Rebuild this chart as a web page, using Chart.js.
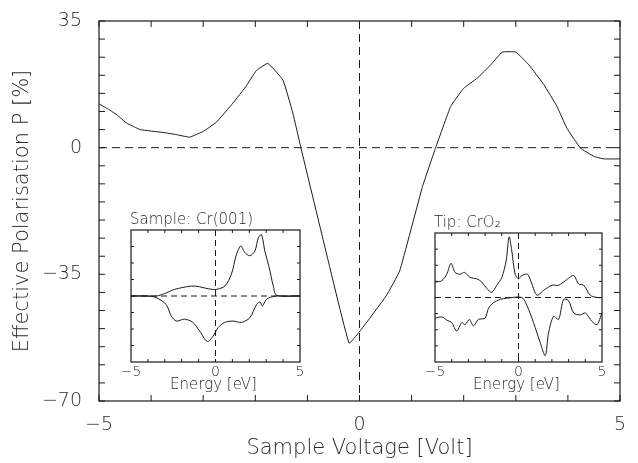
<!DOCTYPE html>
<html>
<head>
<meta charset="utf-8">
<script src="https://cdn.jsdelivr.net/npm/chart.js@4.4.0/dist/chart.umd.min.js"></script>
<style>
  html, body { margin: 0; padding: 0; background: #fff; }
  #wrap { position: relative; width: 638px; height: 463px; }
  canvas { position: absolute; }
</style>
</head>
<body>
<div id="wrap">
  <canvas id="mainChart" width="638" height="463" style="left:0;top:0"></canvas>
  <canvas id="sampleChart" width="230" height="200" style="left:100px;top:200px"></canvas>
  <canvas id="tipChart" width="230" height="200" style="left:405px;top:200px"></canvas>
</div>
<script>
// main curve: sample voltage [V] vs effective polarisation [%]
var voltage = [-5.0, -4.85, -4.66, -4.47, -4.21, -3.77, -3.51, -3.26, -3.0, -2.75, -2.43, -2.17, -1.98, -1.76, -1.47, -1.28, -1.12, -0.70, -0.20, 0.03, 0.51, 0.77, 1.21, 1.45, 1.75, 2.0, 2.26, 2.52, 2.74, 3.0, 3.25, 3.54, 3.79, 3.98, 4.24, 4.5, 4.69, 5.0];
var polarisation = [12.1, 10.9, 9.1, 6.8, 5.0, 4.2, 3.6, 2.9, 4.5, 7.0, 12.3, 17.1, 21.3, 23.3, 18.7, 9.6, -0.3, -25.3, -54.0, -50.3, -41.0, -34.1, -10.7, -0.5, 11.4, 16.4, 19.2, 22.9, 26.4, 26.4, 22.9, 17.4, 11.4, 5.4, -0.1, -2.4, -3.1, -3.1];

var xTickLabels = [-5, 0, 5];
var yTickLabels = [35, 0, -35, -70];

// inset: sample Cr(001), majority (up) and minority (down) DOS
var crUpEnergy = [-5, -3.5, -3.02, -2.42, -1.43, -0.94, -0.44, 0.05, 0.55, 0.94, 1.24, 1.50, 1.73, 2.03, 2.33, 2.53, 2.72, 2.92, 3.16, 3.42, 3.62, 5];
var crUpDos = [0, 0, 0.036, 0.10, 0.15, 0.14, 0.11, 0.10, 0.15, 0.33, 0.63, 0.76, 0.66, 0.61, 0.68, 0.88, 0.93, 0.68, 0.45, 0.15, 0.01, 0];
var crDownEnergy = [-5, -3.9, -3.42, -2.92, -2.62, -2.32, -1.83, -1.34, -0.94, -0.48, -0.15, 0.15, 0.55, 1.04, 1.54, 2.03, 2.43, 2.63, 2.77, 3.02, 3.32, 3.6, 5];
var crDownDos = [0, 0, -0.035, -0.13, -0.30, -0.38, -0.35, -0.40, -0.53, -0.69, -0.61, -0.48, -0.40, -0.38, -0.40, -0.33, -0.13, -0.09, -0.15, -0.05, -0.015, 0, 0];

// inset: tip CrO2
var tipUpEnergy = [-5, -4.6, -4.3, -4.04, -3.8, -3.5, -3.24, -2.9, -2.5, -2.2, -1.9, -1.6, -1.3, -1.0, -0.74, -0.56, -0.40, -0.2, 0, 0.2, 0.54, 0.8, 1.1, 1.5, 2.0, 2.4, 2.8, 3.3, 3.6, 3.9, 4.3, 4.7, 5.0];
var tipUpDos = [0.24, 0.26, 0.36, 0.53, 0.39, 0.36, 0.39, 0.31, 0.29, 0.24, 0.14, 0.08, 0.19, 0.31, 0.57, 0.94, 0.72, 0.36, 0.29, 0.34, 0.36, 0.21, 0.035, 0.11, 0.19, 0.19, 0.26, 0.34, 0.21, 0.19, 0.035, 0, 0];
var tipDownEnergy = [-5, -4.6, -4.3, -4.0, -3.7, -3.4, -3.2, -2.94, -2.7, -2.4, -2.0, -1.8, -1.5, -1.1, -0.7, 0.2, 0.5, 0.9, 1.3, 1.6, 1.8, 2.1, 2.4, 2.7, 3.0, 3.3, 3.7, 4.0, 4.4, 4.7, 5.0];
var tipDownDos = [-0.32, -0.30, -0.35, -0.39, -0.52, -0.39, -0.42, -0.34, -0.44, -0.34, -0.32, -0.17, -0.08, -0.03, -0.01, 0, -0.12, -0.39, -0.70, -0.90, -0.55, -0.29, -0.34, -0.03, -0.05, -0.24, -0.27, -0.24, -0.37, -0.42, -0.24];

var FONT = '"DejaVu Sans", sans-serif';
var INK = '#1a1a1a';
var TEXT = '#2a2a2a';

function points(xs, ys) {
    var out = [];
    for (var i = 0; i < xs.length; i++) out.push({ x: xs[i], y: ys[i] });
    return out;
}

function label(v) {
    return v < 0 ? '\u2212' + Math.abs(v) : String(v);
}

function line(ctx, x1, y1, x2, y2) {
    ctx.beginPath();
    ctx.moveTo(x1, y1);
    ctx.lineTo(x2, y2);
    ctx.stroke();
}

// frame, inward ticks and dashed zero lines for the main plot
var mainDecor = {
    id: 'mainDecor',
    beforeDatasetsDraw: function (chart) {
        var a = chart.chartArea, ctx = chart.ctx;
        var x0 = chart.scales.x.getPixelForValue(0);
        var y0 = chart.scales.y.getPixelForValue(0);
        ctx.save();
        ctx.strokeStyle = INK;
        ctx.lineWidth = 1;
        ctx.setLineDash([8, 5]);
        line(ctx, a.left, y0, a.right, y0);
        line(ctx, x0, a.top, x0, a.bottom);
        ctx.restore();
    },
    afterDraw: function (chart) {
        var a = chart.chartArea, ctx = chart.ctx;
        var xs = chart.scales.x, ys = chart.scales.y;
        ctx.save();
        ctx.strokeStyle = INK;
        ctx.lineWidth = 1.2;
        ctx.strokeRect(a.left, a.top, a.right - a.left, a.bottom - a.top);
        ctx.lineWidth = 1;
        xs.ticks.forEach(function (t) {
            var px = xs.getPixelForValue(t.value);
            line(ctx, px, a.top, px, a.top + 6);
            line(ctx, px, a.bottom, px, a.bottom - 6);
        });
        ys.ticks.forEach(function (t) {
            var py = ys.getPixelForValue(t.value);
            line(ctx, a.left, py, a.left + 6, py);
            line(ctx, a.right, py, a.right - 6, py);
        });
        ctx.restore();
    }
};

new Chart(document.getElementById('mainChart'), {
    type: 'scatter',
    data: {
        datasets: [{
            data: points(voltage, polarisation),
            showLine: true,
            borderColor: INK,
            borderWidth: 1,
            pointRadius: 0,
            tension: 0.1
        }]
    },
    options: {
        responsive: false,
        animation: false,
        layout: { padding: { top: 21, right: 18, left: 0, bottom: 0 } },
        plugins: { legend: { display: false }, tooltip: { enabled: false } },
        scales: {
            x: {
                type: 'linear',
                min: -5, max: 5,
                afterFit: function (s) { s.height = 62; s.paddingLeft = 0; s.paddingRight = 0; },
                grid: { display: false, drawTicks: false },
                border: { display: false },
                ticks: {
                    stepSize: 1, autoSkip: false, maxRotation: 0, padding: 13,
                    color: TEXT, font: { family: FONT, size: 19, weight: '200' },
                    callback: function (v) { return xTickLabels.indexOf(v) >= 0 ? label(v) : ''; }
                },
                title: {
                    display: true, text: 'Sample Voltage [Volt]', color: TEXT,
                    font: { family: FONT, size: 21, weight: '200' }, padding: { top: 0, bottom: 2 }
                }
            },
            y: {
                type: 'linear',
                min: -70, max: 35,
                afterFit: function (s) { s.width = 99; s.paddingTop = 0; s.paddingBottom = 0; },
                grid: { display: false, drawTicks: false },
                border: { display: false },
                ticks: {
                    stepSize: 5, autoSkip: false, padding: 17,
                    color: TEXT, font: { family: FONT, size: 19, weight: '200' },
                    callback: function (v) { return yTickLabels.indexOf(v) >= 0 ? label(v) : ''; }
                },
                title: {
                    display: true, text: 'Effective Polarisation P [%]', color: TEXT,
                    font: { family: FONT, size: 21, weight: '200' }, padding: { top: 10, bottom: 0 }
                }
            }
        }
    },
    plugins: [mainDecor]
});

function insetDecor(title) {
    return {
        id: 'insetDecor',
        beforeDraw: function (chart) {
            var a = chart.chartArea, ctx = chart.ctx;
            ctx.save();
            ctx.fillStyle = '#fff';
            ctx.fillRect(a.left, a.top, a.right - a.left, a.bottom - a.top);
            ctx.restore();
        },
        beforeDatasetsDraw: function (chart) {
            var a = chart.chartArea, ctx = chart.ctx;
            var x0 = chart.scales.x.getPixelForValue(0);
            var y0 = chart.scales.y.getPixelForValue(0);
            ctx.save();
            ctx.strokeStyle = INK;
            ctx.lineWidth = 1;
            ctx.setLineDash([6, 4]);
            line(ctx, a.left, y0, a.right, y0);
            line(ctx, x0, a.top, x0, a.bottom);
            ctx.restore();
        },
        afterDraw: function (chart) {
            var a = chart.chartArea, ctx = chart.ctx;
            var xs = chart.scales.x, ys = chart.scales.y;
            ctx.save();
            ctx.strokeStyle = INK;
            ctx.lineWidth = 1.2;
            ctx.strokeRect(a.left, a.top, a.right - a.left, a.bottom - a.top);
            ctx.lineWidth = 1;
            for (var e = -4; e <= 4; e++) {
                var px = xs.getPixelForValue(e);
                line(ctx, px, a.top, px, a.top + 3);
                line(ctx, px, a.bottom, px, a.bottom - 3);
            }
            for (var d = -0.75; d <= 0.75; d += 0.25) {
                var py = ys.getPixelForValue(d);
                line(ctx, a.left, py, a.left + 3, py);
                line(ctx, a.right, py, a.right - 3, py);
            }
            ctx.fillStyle = TEXT;
            ctx.textAlign = 'center';
            ctx.textBaseline = 'middle';
            ctx.font = '200 14px ' + FONT;
            xTickLabels.forEach(function (v) {
                ctx.fillText(label(v), xs.getPixelForValue(v), a.bottom + 10);
            });
            ctx.font = '200 15px ' + FONT;
            ctx.fillText('Energy [eV]', (a.left + a.right) / 2 - 2, a.bottom + 23);
            ctx.textAlign = 'left';
            ctx.textBaseline = 'alphabetic';
            ctx.fillText(title, a.left - 1, a.top - 6);
            ctx.restore();
        }
    };
}

function insetChart(id, upE, upD, downE, downD, title, pad) {
    var ds = function (xs, ys) {
        return {
            data: points(xs, ys), showLine: true, borderColor: INK, borderWidth: 1,
            pointRadius: 0, tension: 0.3
        };
    };
    new Chart(document.getElementById(id), {
        type: 'scatter',
        data: { datasets: [ds(upE, upD), ds(downE, downD)] },
        options: {
            responsive: false,
            animation: false,
            layout: { padding: pad },
            plugins: { legend: { display: false }, tooltip: { enabled: false } },
            scales: {
                x: { type: 'linear', min: -5, max: 5, display: false },
                y: { type: 'linear', min: -1, max: 1, display: false }
            }
        },
        plugins: [insetDecor(title)]
    });
}

insetChart('sampleChart', crUpEnergy, crUpDos, crDownEnergy, crDownDos, 'Sample: Cr(001)',
    { left: 31, top: 30, right: 30, bottom: 38 });
insetChart('tipChart', tipUpEnergy, tipUpDos, tipDownEnergy, tipDownDos, 'Tip: CrO\u2082',
    { left: 30, top: 33, right: 33, bottom: 38 });
</script>
</body>
</html>
